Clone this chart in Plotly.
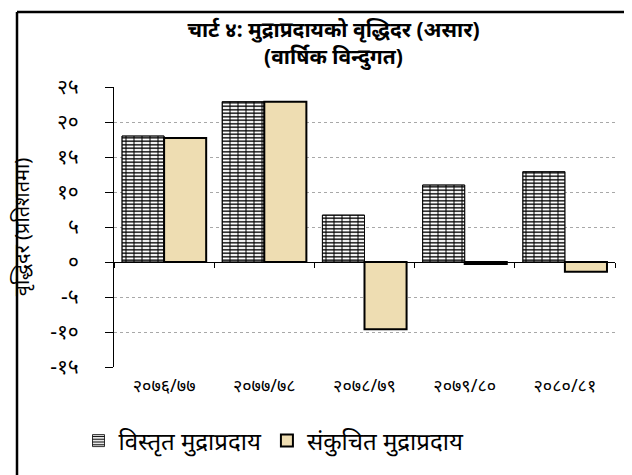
import plotly.graph_objects as go

categories = ["२०७६/७७", "२०७७/७८", "२०७८/७९", "२०७९/८०", "२०८०/८१"]
broad_money = [18.0, 22.9, 6.7, 11.0, 12.9]
narrow_money = [17.7, 22.9, -9.6, -0.3, -1.4]
ytick_vals = [-15, -10, -5, 0, 5, 10, 15, 20, 25]
ytick_text = ["-१५", "-१०", "-५", "०", "५", "१०", "१५", "२०", "२५"]
series_names = ["विस्तृत मुद्राप्रदाय", "संकुचित मुद्राप्रदाय"]
title_text = "<b>चार्ट ४: मुद्राप्रदायको वृद्धिदर (असार)<br>(वार्षिक विन्दुगत)</b>"
ytitle = "वृद्धिदर (प्रतिशतमा)"

FONT = "Noto Sans, DejaVu Sans, sans-serif"
BW = 0.42
W, H = 632, 475
L, R, T, B = 106, 25, 79, 116
PW, PH = W - L - R, H - T - B


def px_x(p):
    return (p - L) / PW


def px_y(p):
    return (T + PH - p) / PH


fig = go.Figure()
fig.add_trace(go.Bar(
    x=categories, y=broad_money, name=series_names[0],
    width=BW, offset=-BW,
    marker=dict(color="white", line=dict(color="black", width=0.8),
                pattern=dict(shape="-", size=3.5, solidity=0.4, fgcolor="black",
                             bgcolor="white", fillmode="replace")),
))
fig.add_trace(go.Bar(
    x=categories, y=broad_money, name=series_names[0], showlegend=False,
    width=BW, offset=-BW, hoverinfo="skip",
    marker=dict(color="rgba(0,0,0,0)", line=dict(color="black", width=0.8),
                pattern=dict(shape="|", size=8, solidity=0.25, fgcolor="black",
                             fillmode="overlay")),
))
fig.add_trace(go.Bar(
    x=categories, y=narrow_money, name=series_names[1],
    width=BW, offset=0,
    marker=dict(color="#EEDDB2", line=dict(color="black", width=2)),
))
fig.add_trace(go.Scatter(x=[None], y=[None], xaxis="x2", yaxis="y",
                         showlegend=False, hoverinfo="skip"))

frame_line = dict(color="black", width=2.5)
fig.update_layout(
    width=W, height=H,
    barmode="overlay",
    paper_bgcolor="white", plot_bgcolor="white",
    margin=dict(l=L, r=R, t=T, b=B, autoexpand=False),
    font=dict(family=FONT, color="black"),
    title=dict(text=title_text, x=0.515, xanchor="center",
               yref="container", y=1 - 29 / H, yanchor="middle",
               font=dict(size=21, family=FONT, color="black")),
    xaxis=dict(showline=False, ticks="", tickfont=dict(size=18, color="black"),
               ticklabelstandoff=6, showgrid=False, zeroline=False, automargin=False),
    xaxis2=dict(overlaying="x", anchor="free", position=0.375, side="bottom",
                range=[-0.5, 4.5], tickvals=[-0.5, 0.5, 1.5, 2.5, 3.5, 4.5],
                ticks="outside", ticklen=5, tickcolor="black",
                showticklabels=False, showline=False, showgrid=False, zeroline=False),
    yaxis=dict(range=[-15, 25], tickvals=ytick_vals, ticktext=ytick_text,
               showline=True, linecolor="black", linewidth=1,
               ticks="outside", ticklen=8, tickcolor="black",
               tickfont=dict(size=21, color="black"), ticklabelstandoff=22,
               showgrid=True, gridcolor="#A8A8A8", griddash="dot", gridwidth=1,
               zeroline=True, zerolinecolor="black", zerolinewidth=1.2,
               automargin=False,
               title=dict(text=ytitle, font=dict(size=20, color="black"), standoff=16)),
    legend=dict(orientation="h", x=px_x(266), xanchor="center",
                yref="container", y=1 - 433 / H, yanchor="middle",
                font=dict(size=24, color="black"), itemwidth=30,
                traceorder="normal"),
    shapes=[
        dict(type="line", xref="paper", yref="paper",
             x0=px_x(9), x1=px_x(9), y0=px_y(474), y1=px_y(4),
             line=frame_line, layer="above"),
        dict(type="line", xref="paper", yref="paper",
             x0=px_x(9), x1=px_x(631), y0=px_y(4), y1=px_y(4),
             line=frame_line, layer="above"),
    ],
)

fig.write_html("out.html")
